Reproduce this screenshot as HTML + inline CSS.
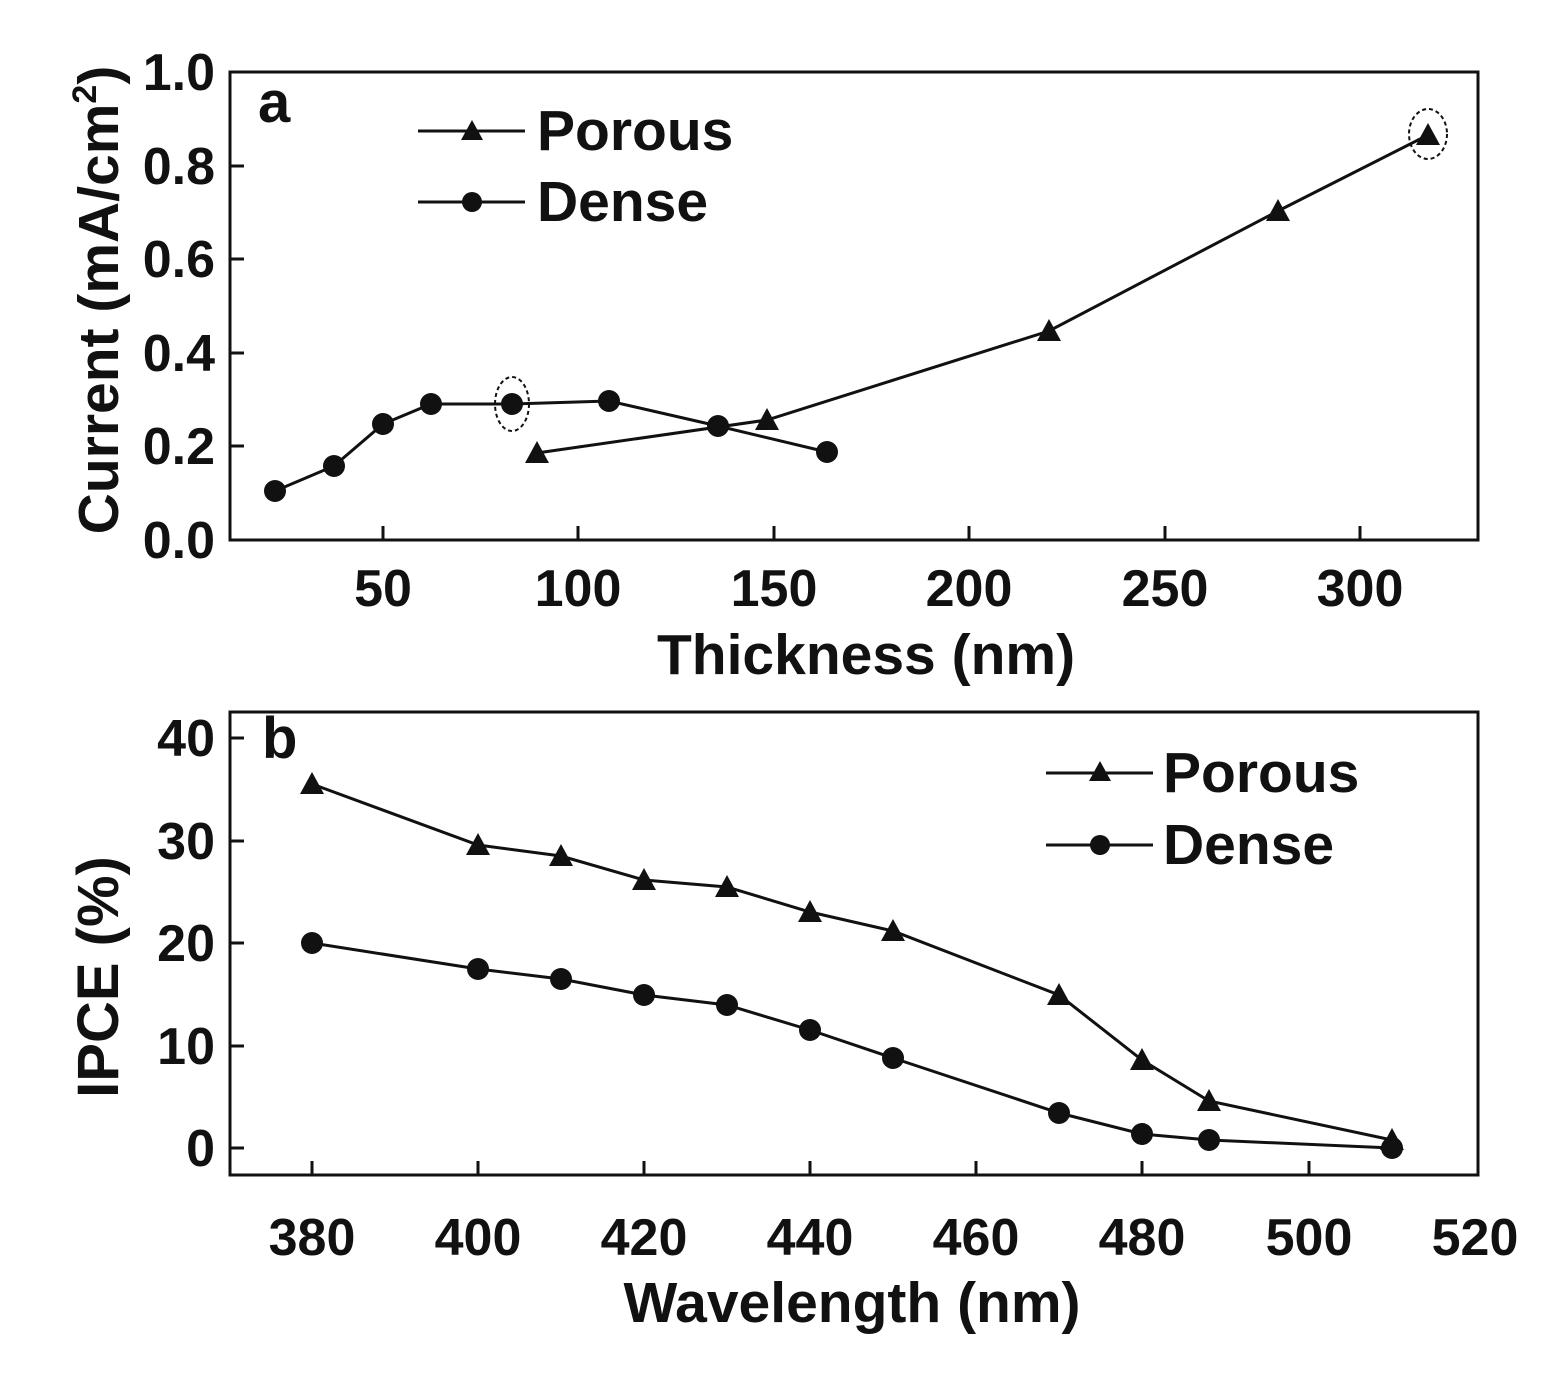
<!DOCTYPE html>
<html><head><style>body{margin:0;background:#fff}</style></head><body>
<svg width="1553" height="1370" xmlns="http://www.w3.org/2000/svg" font-family="Liberation Sans, sans-serif" font-weight="bold">
<g stroke="#111" stroke-width="3" fill="none">
<rect x="230" y="72" width="1248" height="468"/>
<rect x="230" y="712" width="1248" height="463"/>
</g>
<g stroke="#111" stroke-width="3">
<line x1="230" y1="540" x2="244" y2="540"/><line x1="230" y1="446" x2="244" y2="446"/><line x1="230" y1="353" x2="244" y2="353"/><line x1="230" y1="259" x2="244" y2="259"/><line x1="230" y1="166" x2="244" y2="166"/><line x1="230" y1="72" x2="244" y2="72"/>
<line x1="383" y1="540" x2="383" y2="526"/><line x1="578" y1="540" x2="578" y2="526"/><line x1="774" y1="540" x2="774" y2="526"/><line x1="969" y1="540" x2="969" y2="526"/><line x1="1165" y1="540" x2="1165" y2="526"/><line x1="1360" y1="540" x2="1360" y2="526"/>
</g>
<g font-size="52" fill="#111" text-anchor="end">
<text x="215" y="558">0.0</text><text x="215" y="464">0.2</text><text x="215" y="371">0.4</text><text x="215" y="277">0.6</text><text x="215" y="184">0.8</text><text x="215" y="90">1.0</text>
</g>
<g font-size="52" fill="#111" text-anchor="middle">
<text x="383" y="606">50</text><text x="578" y="606">100</text><text x="774" y="606">150</text><text x="969" y="606">200</text><text x="1165" y="606">250</text><text x="1360" y="606">300</text>
<text x="866" y="674" font-size="57">Thickness (nm)</text>
</g>
<text transform="translate(118,300) rotate(-90)" font-size="57" text-anchor="middle" fill="#111">Current (mA/cm<tspan font-size="34" dy="-22">2</tspan><tspan dy="22">)</tspan></text>
<text x="258" y="122" font-size="58" fill="#111">a</text>
<g stroke="#111" stroke-width="3" fill="none">
<polyline points="275,491 334,466 383,424 431,404 512,404 609,401 718,426 827,452"/>
<polyline points="537,453 767,420 1049,331 1278,211 1428,135"/>
<ellipse cx="512" cy="404" rx="17" ry="27" stroke-dasharray="4,3" stroke-width="2"/>
<ellipse cx="1428" cy="134" rx="19" ry="25" stroke-dasharray="4,3" stroke-width="2"/>
<line x1="418" y1="131" x2="525" y2="131"/><line x1="418" y1="202" x2="525" y2="202"/>
</g>
<g fill="#111">
<circle cx="275" cy="491" r="11"/><circle cx="334" cy="466" r="11"/><circle cx="383" cy="424" r="11"/><circle cx="431" cy="404" r="11"/><circle cx="512" cy="404" r="11"/><circle cx="609" cy="401" r="11"/><circle cx="718" cy="426" r="11"/><circle cx="827" cy="452" r="11"/>
<circle cx="472" cy="202" r="10"/>
<polygon points="537,441 549,463 525,463"/><polygon points="767,408 779,430 755,430"/><polygon points="1049,319 1061,341 1037,341"/><polygon points="1278,199 1290,221 1266,221"/><polygon points="1428,123 1440,145 1416,145"/>
<polygon points="472,120 483,140 461,140"/>
</g>
<text x="537" y="150" font-size="57" fill="#111">Porous</text>
<text x="537" y="221" font-size="57" fill="#111">Dense</text>
<g stroke="#111" stroke-width="3">
<line x1="230" y1="1148" x2="244" y2="1148"/><line x1="230" y1="1046" x2="244" y2="1046"/><line x1="230" y1="943" x2="244" y2="943"/><line x1="230" y1="841" x2="244" y2="841"/><line x1="230" y1="738" x2="244" y2="738"/>
<line x1="312" y1="1175" x2="312" y2="1161"/><line x1="478" y1="1175" x2="478" y2="1161"/><line x1="644" y1="1175" x2="644" y2="1161"/><line x1="810" y1="1175" x2="810" y2="1161"/><line x1="976" y1="1175" x2="976" y2="1161"/><line x1="1142" y1="1175" x2="1142" y2="1161"/><line x1="1309" y1="1175" x2="1309" y2="1161"/>
</g>
<g font-size="52" fill="#111" text-anchor="end">
<text x="215" y="1166">0</text><text x="215" y="1064">10</text><text x="215" y="961">20</text><text x="215" y="859">30</text><text x="215" y="756">40</text>
</g>
<g font-size="52" fill="#111" text-anchor="middle">
<text x="312" y="1255">380</text><text x="478" y="1255">400</text><text x="644" y="1255">420</text><text x="810" y="1255">440</text><text x="976" y="1255">460</text><text x="1142" y="1255">480</text><text x="1309" y="1255">500</text><text x="1475" y="1255">520</text>
<text x="852" y="1322" font-size="57">Wavelength (nm)</text>
</g>
<text transform="translate(118,977) rotate(-90)" font-size="58" text-anchor="middle" fill="#111">IPCE (%)</text>
<text x="262" y="758" font-size="58" fill="#111">b</text>
<g stroke="#111" stroke-width="3" fill="none">
<polyline points="312,784 478,845 561,856 644,880 727,887 810,912 893,931 1059,995 1142,1060 1209,1101 1392,1140"/>
<polyline points="312,943 478,969 561,979 644,995 727,1005 810,1030 893,1058 1059,1113 1142,1134 1209,1140 1392,1148"/>
<line x1="1046" y1="773" x2="1153" y2="773"/><line x1="1046" y1="845" x2="1153" y2="845"/>
</g>
<g fill="#111">
<polygon points="312,772 324,794 300,794"/><polygon points="478,833 490,855 466,855"/><polygon points="561,844 573,866 549,866"/><polygon points="644,868 656,890 632,890"/><polygon points="727,875 739,897 715,897"/><polygon points="810,900 822,922 798,922"/><polygon points="893,919 905,941 881,941"/><polygon points="1059,983 1071,1005 1047,1005"/><polygon points="1142,1048 1154,1070 1130,1070"/><polygon points="1209,1089 1221,1111 1197,1111"/><polygon points="1392,1128 1404,1150 1380,1150"/>
<polygon points="1100,761 1111,781 1089,781"/>
<circle cx="312" cy="943" r="11"/><circle cx="478" cy="969" r="11"/><circle cx="561" cy="979" r="11"/><circle cx="644" cy="995" r="11"/><circle cx="727" cy="1005" r="11"/><circle cx="810" cy="1030" r="11"/><circle cx="893" cy="1058" r="11"/><circle cx="1059" cy="1113" r="11"/><circle cx="1142" cy="1134" r="11"/><circle cx="1209" cy="1140" r="11"/><circle cx="1392" cy="1148" r="11"/>
<circle cx="1100" cy="845" r="10"/>
</g>
<text x="1163" y="792" font-size="57" fill="#111">Porous</text>
<text x="1163" y="864" font-size="57" fill="#111">Dense</text>
</svg>
</body></html>
